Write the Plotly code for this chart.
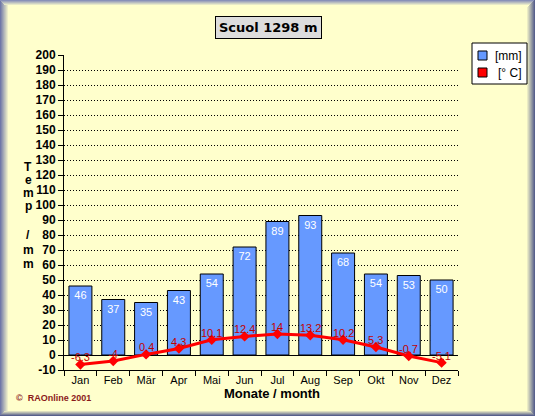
import plotly.graph_objects as go

months = ["Jan", "Feb", "Mär", "Apr", "Mai", "Jun", "Jul", "Aug", "Sep", "Okt", "Nov", "Dez"]
precip_mm = [46, 37, 35, 43, 54, 72, 89, 93, 68, 54, 53, 50]
temp_c = [-6.3, -4, 0.4, 4.3, 10.1, 12.4, 14, 13.2, 10.2, 5.3, -0.7, -5.1]
temp_labels = ["-6.3", "-4", "0.4", "4.3", "10.1", "12.4", "14", "13.2", "10.2", "5.3", "-0.7", "-5.1"]
y_ticks = list(range(-10, 201, 10))

W, H = 535, 416
L, R, T, B = 64, 77, 55, 46
PW, PH = W - L - R, H - T - B

def px(x):
    return (x - L) / PW

def py(y):
    return (H - B - y) / PH

FONT = "Liberation Sans, Arial, sans-serif"
BG = "#FFFFCC"

fig = go.Figure()
fig.add_trace(go.Bar(
    x=months, y=precip_mm, width=0.7,
    marker=dict(color="#6699FF", line=dict(color="black", width=1)),
    text=[str(v) for v in precip_mm], textposition="inside", insidetextanchor="end",
    textfont=dict(color="white", size=11, family=FONT), constraintext="none",
    showlegend=False, cliponaxis=False,
))
fig.add_trace(go.Scatter(
    x=months, y=temp_c, mode="lines+markers",
    line=dict(color="#FF0000", width=3),
    marker=dict(symbol="diamond", size=8, color="#FF0000"),
    showlegend=False, cliponaxis=False,
))

shapes = []
annotations = []

for m, t, lab in zip(months, temp_c, temp_labels):
    annotations.append(dict(x=m, y=t, xref="x", yref="y", text=lab, showarrow=False,
                            xanchor="center", yanchor="middle", yshift=7,
                            font=dict(color="#C00000", size=11, family=FONT)))

# bevel frame
def blend(c1, c2, t):
    a = [int(c1[i:i + 2], 16) for i in (1, 3, 5)]
    b = [int(c2[i:i + 2], 16) for i in (1, 3, 5)]
    return "#%02x%02x%02x" % tuple(round(a[k] + (b[k] - a[k]) * t) for k in range(3))

nL, nT, nR, nB = 8, 5, 8, 5
for i in range(nL):
    c = blend("#7078a8", BG, i / nL)
    shapes.append(dict(type="line", xref="paper", yref="paper", x0=px(i + 0.5), x1=px(i + 0.5),
                       y0=py(0), y1=py(H), line=dict(color=c, width=1), layer="above"))
for i in range(nT):
    c = blend("#8890b8", BG, i / nT)
    shapes.append(dict(type="line", xref="paper", yref="paper", x0=px(i), x1=px(W - i),
                       y0=py(i + 0.5), y1=py(i + 0.5), line=dict(color=c, width=1), layer="above"))
for i in range(nR):
    c = blend("#58608c", BG, i / nR)
    shapes.append(dict(type="line", xref="paper", yref="paper", x0=px(W - i - 0.5), x1=px(W - i - 0.5),
                       y0=py(i), y1=py(H), line=dict(color=c, width=1), layer="above"))
for i in range(nB):
    c = blend("#58608c", BG, i / nB)
    shapes.append(dict(type="line", xref="paper", yref="paper", x0=px(i), x1=px(W - i),
                       y0=py(H - i - 0.5), y1=py(H - i - 0.5), line=dict(color=c, width=1), layer="above"))

# legend box
shapes.append(dict(type="rect", xref="paper", yref="paper", x0=px(472), x1=px(527), y0=py(84), y1=py(43),
                   fillcolor="white", line=dict(color="black", width=1)))
shapes.append(dict(type="rect", xref="paper", yref="paper", x0=px(478), x1=px(487), y0=py(60), y1=py(51),
                   fillcolor="#6699FF", line=dict(color="black", width=1)))
shapes.append(dict(type="rect", xref="paper", yref="paper", x0=px(478), x1=px(487), y0=py(77), y1=py(68),
                   fillcolor="#FF0000", line=dict(color="black", width=1)))
annotations.append(dict(xref="paper", yref="paper", x=px(493), y=py(56), text="[mm]", showarrow=False,
                        xanchor="left", yanchor="middle", font=dict(family=FONT, size=12, color="black")))
annotations.append(dict(xref="paper", yref="paper", x=px(496), y=py(73), text="[° C]", showarrow=False,
                        xanchor="left", yanchor="middle", font=dict(family=FONT, size=12, color="black")))

# title
annotations.append(dict(xref="paper", yref="paper", x=px(268), y=py(27), text="<b>Scuol 1298 m</b>",
                        showarrow=False, xanchor="center", yanchor="middle",
                        bgcolor="#DDDDDD", bordercolor="black", borderwidth=1, borderpad=3,
                        font=dict(family="DejaVu Sans, sans-serif", size=13, color="black")))

# y axis title (stacked letters)
for ch, yy in [("T", 167), ("e", 180), ("m", 193), ("p", 206), ("/", 235), ("m", 250), ("m", 264)]:
    annotations.append(dict(xref="paper", yref="paper", x=px(28), y=py(yy), text="<b>%s</b>" % ch,
                            showarrow=False, xanchor="center", yanchor="middle",
                            font=dict(family=FONT, size=12, color="black")))

# x axis title
annotations.append(dict(xref="paper", yref="paper", x=px(272), y=py(393), text="<b>Monate / month</b>",
                        showarrow=False, xanchor="center", yanchor="middle",
                        font=dict(family=FONT, size=13, color="black")))

# copyright
annotations.append(dict(xref="paper", yref="paper", x=px(14), y=py(398), text="<b>©  RAOnline 2001</b>",
                        showarrow=False, xanchor="left", yanchor="middle",
                        font=dict(family=FONT, size=9, color="#8B1A1A")))

fig.update_layout(
    width=W, height=H,
    margin=dict(l=L, r=R, t=T, b=B, pad=0),
    paper_bgcolor=BG, plot_bgcolor=BG,
    font=dict(family=FONT, color="black"),
    shapes=shapes, annotations=annotations,
    barmode="overlay",
    xaxis=dict(
        type="category", categoryorder="array", categoryarray=months, range=[-0.5, 11.5],
        showline=True, linecolor="black", linewidth=1,
        ticks="outside", tickson="boundaries", ticklen=5, tickcolor="black",
        showgrid=False, tickfont=dict(size=11, family=FONT, color="black"),
    ),
    yaxis=dict(
        range=[-10, 200], tickmode="array", tickvals=y_ticks,
        ticktext=["<b>%d</b>" % v for v in y_ticks],
        showline=True, linecolor="black", linewidth=1,
        ticks="outside", ticklen=5, tickcolor="black",
        showgrid=True, gridcolor="black", gridwidth=1, griddash="1px,2px",
        zeroline=True, zerolinecolor="black", zerolinewidth=1,
        tickfont=dict(size=12, family=FONT, color="black"),
    ),
)

fig.write_html("out.html", config={"displayModeBar": False})
